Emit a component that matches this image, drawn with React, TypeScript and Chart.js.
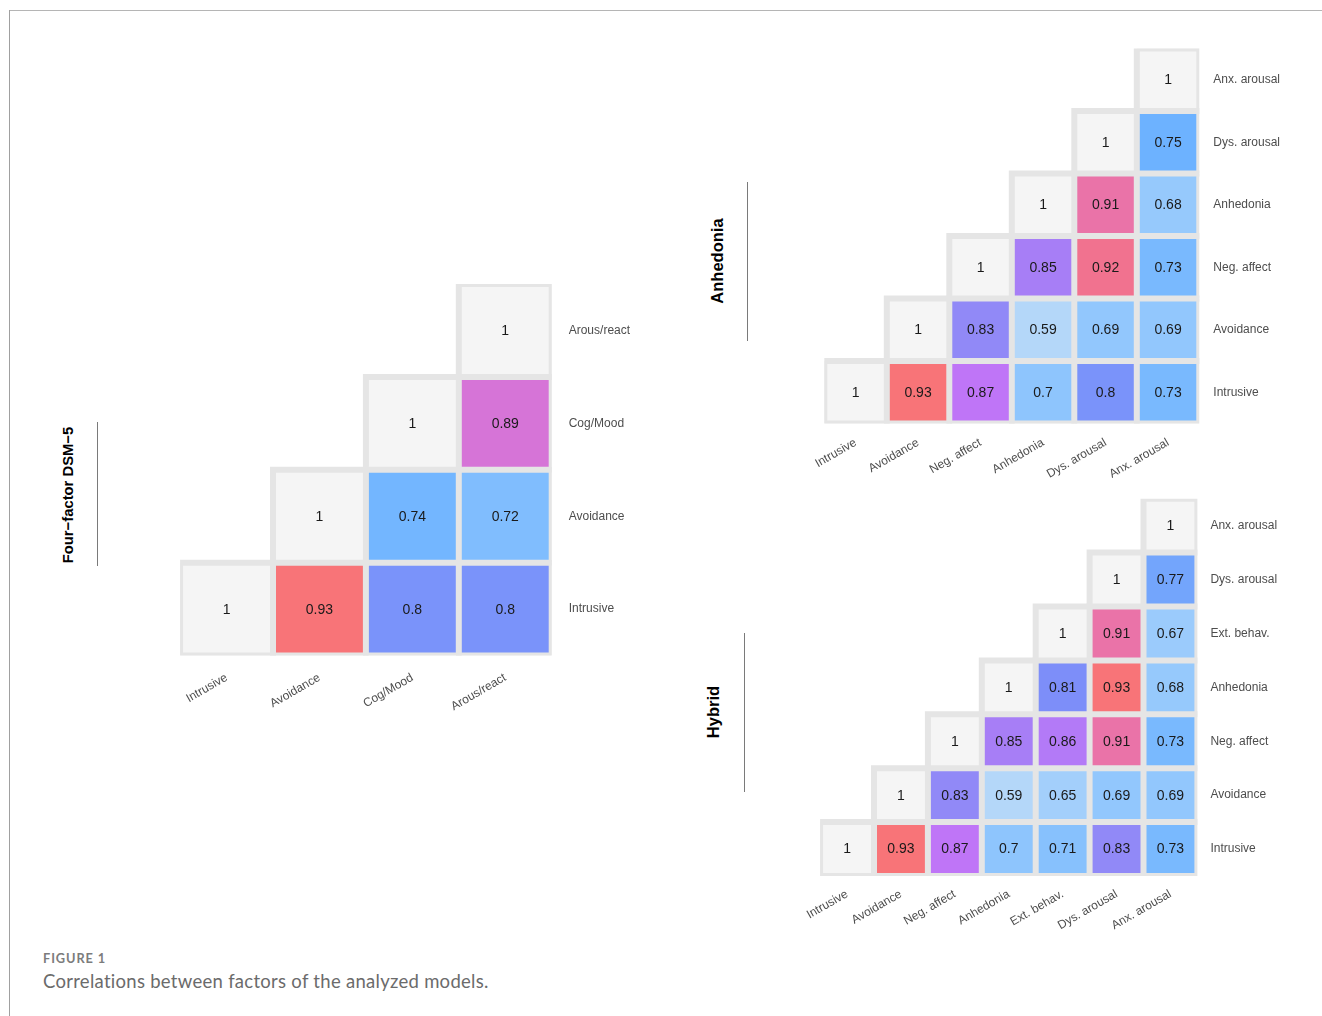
import React, { useEffect, useRef } from "react";
import { Chart, registerables } from "chart.js";

Chart.register(...registerables);

// ---------- Data ----------
// Four-factor DSM-5
const dsmFactors = ["Intrusive", "Avoidance", "Cog/Mood", "Arous/react"];
const dsmIntrusive = [1, 0.93, 0.8, 0.8];
const dsmAvoidance = [1, 0.74, 0.72];
const dsmCogMood = [1, 0.89];
const dsmArousReact = [1];

// Anhedonia model
const anhFactors = ["Intrusive", "Avoidance", "Neg. affect", "Anhedonia", "Dys. arousal", "Anx. arousal"];
const anhIntrusive = [1, 0.93, 0.87, 0.7, 0.8, 0.73];
const anhAvoidance = [1, 0.83, 0.59, 0.69, 0.69];
const anhNegAffect = [1, 0.85, 0.92, 0.73];
const anhAnhedonia = [1, 0.91, 0.68];
const anhDysArousal = [1, 0.75];
const anhAnxArousal = [1];

// Hybrid model
const hybFactors = ["Intrusive", "Avoidance", "Neg. affect", "Anhedonia", "Ext. behav.", "Dys. arousal", "Anx. arousal"];
const hybIntrusive = [1, 0.93, 0.87, 0.7, 0.71, 0.83, 0.73];
const hybAvoidance = [1, 0.83, 0.59, 0.65, 0.69, 0.69];
const hybNegAffect = [1, 0.85, 0.86, 0.91, 0.73];
const hybAnhedonia = [1, 0.81, 0.93, 0.68];
const hybExtBehav = [1, 0.91, 0.67];
const hybDysArousal = [1, 0.77];
const hybAnxArousal = [1];

// ---------- Styling ----------
const FONT = "'Liberation Sans', Arial, Helvetica, sans-serif";
const FRAME = "#e5e5e5";
const DIAG = "#f5f5f5";
const TICK_COLOR = "#4d4d4d";

const colorStops: [number, string][] = [
  [0.59, "#b4d7f9"],
  [0.65, "#a3cffb"],
  [0.7, "#8ec5fd"],
  [0.73, "#79b9fe"],
  [0.75, "#6db2ff"],
  [0.77, "#73a5fc"],
  [0.8, "#7a93fa"],
  [0.81, "#7d8ef9"],
  [0.83, "#9189f7"],
  [0.85, "#a77ef6"],
  [0.87, "#bf75f7"],
  [0.89, "#d674d7"],
  [0.91, "#ea73a8"],
  [0.92, "#f1728f"],
  [0.93, "#f87478"],
];

function hexToRgb(h: string) {
  const n = parseInt(h.slice(1), 16);
  return [(n >> 16) & 255, (n >> 8) & 255, n & 255];
}

function fillFor(v: number): string {
  if (v >= 0.999) return DIAG;
  if (v <= colorStops[0][0]) return colorStops[0][1];
  for (let k = 1; k < colorStops.length; k++) {
    const [v1, c1] = colorStops[k];
    const [v0, c0] = colorStops[k - 1];
    if (v <= v1) {
      const t = (v - v0) / (v1 - v0);
      const a = hexToRgb(c0);
      const b = hexToRgb(c1);
      const m = a.map((x, i) => Math.round(x + (b[i] - x) * t));
      return `rgb(${m[0]},${m[1]},${m[2]})`;
    }
  }
  return colorStops[colorStops.length - 1][1];
}

type Geo = { areaLeft: number; areaTop: number; pitch: number; yPad: number; xPad: number };

const geoDsm: Geo = { areaLeft: 180.1, areaTop: 284.0, pitch: 92.9, yPad: 17, xPad: 15 };
const geoAnh: Geo = { areaLeft: 824.3, areaTop: 48.6, pitch: 62.5, yPad: 14, xPad: 12 };
const geoHyb: Geo = { areaLeft: 820.1, areaTop: 498.7, pitch: 53.9, yPad: 13, xPad: 11 };

const cellTextPlugin = {
  id: "cellText",
  afterDatasetsDraw(chart: any) {
    const ctx = chart.ctx;
    ctx.save();
    ctx.font = `14px ${FONT}`;
    ctx.fillStyle = "#1a1a1a";
    ctx.textAlign = "center";
    ctx.textBaseline = "middle";
    chart.data.datasets.forEach((ds: any, di: number) => {
      if (!ds.cellValues) return;
      const meta = chart.getDatasetMeta(di);
      meta.data.forEach((el: any, j: number) => {
        const v = ds.cellValues[j];
        if (v == null) return;
        const p = el.getCenterPoint();
        ctx.fillText(String(v), p.x, p.y + 0.5);
      });
    });
    ctx.restore();
  },
};

function HeatPanel({ factors, rows, geo }: { factors: string[]; rows: number[][]; geo: Geo }) {
  const ref = useRef<HTMLCanvasElement | null>(null);
  const n = factors.length;
  const area = geo.pitch * n;
  const canvasLeft = Math.floor(geo.areaLeft - 60);
  const padL = geo.areaLeft - canvasLeft;
  const canvasTop = Math.floor(geo.areaTop - 40);
  const padT = geo.areaTop - canvasTop;
  const width = Math.ceil(padL + area + 110);
  const yAxisW = width - padL - area;
  const height = Math.ceil(padT + area + 80);
  const xAxisH = height - padT - area;

  useEffect(() => {
    if (!ref.current) return;
    const barData = (i: number) => factors.map((_, j) => (j >= i ? [i - 0.5, i + 0.5] : null));
    const cellDatasets = rows.map((row, i) => ({
      label: factors[i],
      data: barData(i),
      cellValues: factors.map((_, j) => (j >= i ? row[j - i] : null)),
      backgroundColor: factors.map((_, j) => (j >= i ? fillFor(row[j - i]) : "rgba(0,0,0,0)")),
      borderColor: FRAME,
      borderWidth: 3,
      borderSkipped: false,
      inflateAmount: 0,
      grouped: false,
      barPercentage: 1,
      categoryPercentage: 1,
      order: 0,
    }));
    const frameDatasets = rows.map((_, i) => ({
      label: "frame-" + factors[i],
      data: barData(i),
      backgroundColor: FRAME,
      borderWidth: 0,
      inflateAmount: 3,
      grouped: false,
      barPercentage: 1,
      categoryPercentage: 1,
      order: 1,
    }));

    const chart = new Chart(ref.current, {
      type: "bar",
      data: { labels: factors, datasets: [...cellDatasets, ...frameDatasets] as any },
      options: {
        responsive: false,
        animation: false,
        events: [],
        layout: { padding: { left: padL, top: padT, right: 0, bottom: 0 } },
        plugins: { legend: { display: false }, tooltip: { enabled: false }, title: { display: false } },
        scales: {
          x: {
            type: "category",
            stacked: true,
            offset: true,
            grid: { display: false, drawTicks: false },
            border: { display: false },
            ticks: {
              autoSkip: false,
              maxRotation: 30,
              minRotation: 30,
              padding: geo.xPad,
              color: TICK_COLOR,
              font: { family: FONT, size: 12 },
            },
            afterFit: (s: any) => {
              s.height = xAxisH;
            },
          },
          y: {
            type: "linear",
            position: "right",
            min: -0.5,
            max: n - 0.5,
            grid: { display: false, drawTicks: false },
            border: { display: false },
            afterBuildTicks: (s: any) => {
              s.ticks = factors.map((_, i) => ({ value: i }));
            },
            ticks: {
              padding: geo.yPad,
              color: TICK_COLOR,
              font: { family: FONT, size: 12 },
              callback: (v: any) => factors[Math.round(Number(v))] ?? "",
            },
            afterFit: (s: any) => {
              s.width = yAxisW;
            },
          },
        },
      } as any,
      plugins: [cellTextPlugin],
    });
    return () => chart.destroy();
  }, []);

  return (
    <canvas
      ref={ref}
      width={width}
      height={height}
      style={{ position: "absolute", left: canvasLeft, top: canvasTop, width, height }}
    />
  );
}

function SideTitle({ text, cx, cy, size }: { text: string; cx: number; cy: number; size: number }) {
  return (
    <div
      style={{
        position: "absolute",
        left: cx,
        top: cy,
        transform: "translate(-50%, -50%) rotate(-90deg)",
        whiteSpace: "nowrap",
        fontFamily: FONT,
        fontWeight: 700,
        fontSize: size,
        lineHeight: 1,
        color: "#000",
      }}
    >
      {text}
    </div>
  );
}

function VLine({ x, y1, y2 }: { x: number; y1: number; y2: number }) {
  return (
    <div style={{ position: "absolute", left: x, top: y1, width: 1, height: y2 - y1, background: "#7a7a7a" }} />
  );
}

export default function App() {
  return (
    <div
      style={{
        position: "absolute",
        left: 0,
        top: 0,
        width: 1322,
        height: 1016,
        overflow: "hidden",
        background: "#fff",
      }}
    >
      <div style={{ position: "absolute", left: 9, top: 10, width: 1313, height: 1, background: "#b5b5b5" }} />
      <div style={{ position: "absolute", left: 9, top: 10, width: 1, height: 1006, background: "#a0a0a0" }} />

      <HeatPanel factors={dsmFactors} rows={[dsmIntrusive, dsmAvoidance, dsmCogMood, dsmArousReact]} geo={geoDsm} />
      <HeatPanel
        factors={anhFactors}
        rows={[anhIntrusive, anhAvoidance, anhNegAffect, anhAnhedonia, anhDysArousal, anhAnxArousal]}
        geo={geoAnh}
      />
      <HeatPanel
        factors={hybFactors}
        rows={[hybIntrusive, hybAvoidance, hybNegAffect, hybAnhedonia, hybExtBehav, hybDysArousal, hybAnxArousal]}
        geo={geoHyb}
      />

      <SideTitle text="Four−factor DSM−5" cx={68} cy={495} size={14.8} />
      <VLine x={96.5} y1={422} y2={566} />
      <SideTitle text="Anhedonia" cx={716.5} cy={261} size={16.5} />
      <VLine x={747} y1={182} y2={341} />
      <SideTitle text="Hybrid" cx={713} cy={712} size={16.5} />
      <VLine x={744} y1={633} y2={792} />

      <div
        style={{
          position: "absolute",
          left: 43,
          top: 952,
          fontFamily: "Lato, 'Open Sans', sans-serif",
          fontWeight: 700,
          fontSize: 12.8,
          letterSpacing: 0.9,
          lineHeight: 1,
          color: "#7c7c7c",
          whiteSpace: "nowrap",
        }}
      >
        FIGURE 1
      </div>
      <div
        style={{
          position: "absolute",
          left: 43,
          top: 972,
          fontFamily: "Lato, 'Open Sans', sans-serif",
          fontWeight: 400,
          fontSize: 18.5,
          letterSpacing: 0.28,
          lineHeight: 1,
          color: "#6b6b6b",
          whiteSpace: "nowrap",
        }}
      >
        Correlations between factors of the analyzed models.
      </div>
    </div>
  );
}
